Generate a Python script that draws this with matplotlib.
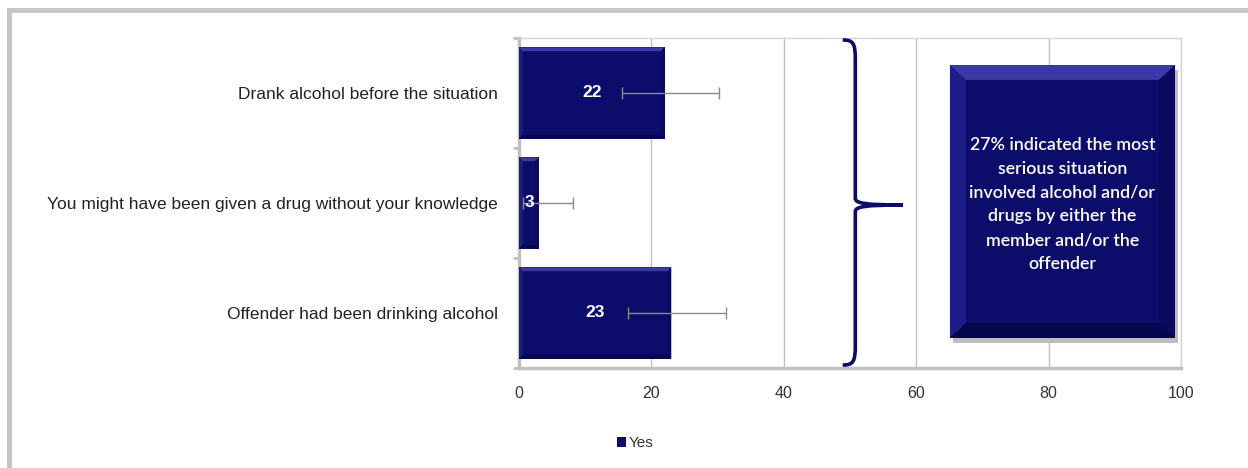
import matplotlib
matplotlib.use("Agg")
from matplotlib import pyplot as plt
from matplotlib.path import Path
from matplotlib.patches import PathPatch, Rectangle, Polygon
import matplotlib.transforms as mtransforms

# data
categories = ["Drank alcohol before the situation",
              "You might have been given a drug without your knowledge",
              "Offender had been drinking alcohol"]
yes_values = [22, 3, 23]
err_low = [15.6, 0.6, 16.5]
err_high = [30.2, 8.2, 31.3]
xticks = [0, 20, 40, 60, 80, 100]
note = ("27% indicated the most\nserious situation\ninvolved alcohol and/or\n"
        "drugs by either the\nmember and/or the\noffender")

navy = "#0c0c6a"
grey = "#c0c0c0"


def bevel(ax, x0, y0, w, h, dx, dy, tr, z):
    # flat face plus four lighter/darker edges, like the office bevel style
    x1, y1 = x0 + w, y0 + h
    ix0, ix1, iy0, iy1 = x0 + dx, x1 - dx, y0 + dy, y1 - dy
    edges = [
        ([(x0, y1), (x1, y1), (ix1, iy1), (ix0, iy1)], "#3a3aa6"),   # top
        ([(x0, y0), (x0, y1), (ix0, iy1), (ix0, iy0)], "#1d1d86"),   # left
        ([(x1, y0), (x1, y1), (ix1, iy1), (ix1, iy0)], "#0a0a5c"),   # right
        ([(x0, y0), (x1, y0), (ix1, iy0), (ix0, iy0)], "#07074f"),   # bottom
    ]
    ax.add_patch(Rectangle((x0, y0), w, h, transform=tr, facecolor=navy,
                           edgecolor="none", zorder=z, clip_on=False))
    for pts, c in edges:
        ax.add_patch(Polygon(pts, closed=True, transform=tr, facecolor=c,
                             edgecolor="none", zorder=z + 0.1, clip_on=False))


fig = plt.figure(figsize=(12.48, 4.68), dpi=100)
ax = fig.add_axes([0.4159, 0.2137, 0.5304, 0.7051])

ypos = list(range(len(categories)))
centers = [(lo + hi) / 2 for lo, hi in zip(err_low, err_high)]
xerr = [[c - lo for c, lo in zip(centers, err_low)],
        [hi - c for c, hi in zip(centers, err_high)]]

bars = ax.barh(ypos, yes_values, height=0.83, color=navy,
               edgecolor="none", zorder=3, label="Yes")
for b in bars:
    # y axis is inverted, so the visual top is the smaller y value
    bevel(ax, b.get_x(), b.get_y() + b.get_height(), b.get_width(), -b.get_height(),
          0.55, -0.035, ax.transData, 3)
ax.errorbar(centers, ypos, xerr=xerr, fmt="none", ecolor="#8a8a8a",
            elinewidth=1, capsize=4, capthick=1, zorder=4)

for b, v in zip(bars, yes_values):
    ax.text(v / 2, b.get_y() + b.get_height() / 2, str(v), color="white",
            fontsize=12.5, fontweight="bold", ha="center", va="center",
            family="Liberation Sans", zorder=5)

ax.set_xlim(0, 100)
ax.set_ylim(2.5, -0.5)
ax.set_xticks(xticks)
ax.set_xticklabels([str(t) for t in xticks], family="Liberation Sans",
                   fontsize=11.5, color="#333333")
ax.tick_params(axis="x", length=0, pad=13)
ax.set_yticks(ypos)
ax.set_yticklabels(categories, family="Liberation Sans", fontsize=12.5, color="#222222")
ax.tick_params(axis="y", which="major", length=0, pad=15)
ax.set_yticks([-0.5, 0.5, 1.5, 2.5], minor=True)
ax.tick_params(axis="y", which="minor", length=4, width=2, color=grey)

ax.grid(axis="x", color=grey, linewidth=1, zorder=0)
ax.set_axisbelow(True)
for s in ["top", "right"]:
    ax.spines[s].set_color("#d6d6d6")
    ax.spines[s].set_linewidth(1)
for s in ["left", "bottom"]:
    ax.spines[s].set_color(grey)
    ax.spines[s].set_linewidth(2.5)

# curly brace in (data x, axes y)
tr = mtransforms.blended_transform_factory(ax.transData, ax.transAxes)
xl, xs, xt = 48.9, 50.8, 58.0
yt, ym, yb = 0.994, 0.494, 0.009
verts = [(xl, yt), (xs - 0.3, yt), (xs, yt - 0.01), (xs, yt - 0.06),
         (xs, ym + 0.02),
         (xs, ym + 0.005), (xs + 1.5, ym), (xt, ym),
         (xs + 1.5, ym), (xs, ym - 0.005), (xs, ym - 0.02),
         (xs, yb + 0.06),
         (xs, yb + 0.01), (xs - 0.3, yb), (xl, yb)]
codes = [Path.MOVETO, Path.CURVE4, Path.CURVE4, Path.CURVE4,
         Path.LINETO,
         Path.CURVE4, Path.CURVE4, Path.CURVE4,
         Path.CURVE4, Path.CURVE4, Path.CURVE4,
         Path.LINETO,
         Path.CURVE4, Path.CURVE4, Path.CURVE4]
ax.add_patch(PathPatch(Path(verts, codes), fill=False, edgecolor=navy,
                       linewidth=2.6, transform=tr, clip_on=False, zorder=6))

# text box with bevel look and a soft shadow
bx0, bx1, by0, by1 = 65.1, 99.1, 0.091, 0.918
ax.add_patch(Rectangle((bx0 + 0.5, by0 - 0.014), bx1 - bx0, by1 - by0,
                       transform=tr, facecolor="#bdbdbd", edgecolor="none",
                       zorder=6, clip_on=False))
bevel(ax, bx0, by0, bx1 - bx0, by1 - by0, 2.4, 0.045, tr, 7)
ax.text((bx0 + bx1) / 2, 0.7, note, transform=tr, color="white", fontsize=12.8,
        family="Lato", fontweight="semibold", ha="center", va="top",
        linespacing=1.6, zorder=9)

leg = fig.legend(handles=[bars], labels=["Yes"], loc="center",
                 bbox_to_anchor=(0.509, 0.053), frameon=False, handlelength=0.6,
                 handleheight=0.6, handletextpad=0.15,
                 prop={"family": "Liberation Sans", "size": 11})
for t in leg.get_texts():
    t.set_color("#333333")

# outer grey frame
fig.add_artist(Rectangle((0.0075, -0.05), 1.2, 0.05 + 0.978, transform=fig.transFigure,
                         fill=False, edgecolor="#c4c4c4", linewidth=3.5))

fig.savefig("out.png", dpi=100)
